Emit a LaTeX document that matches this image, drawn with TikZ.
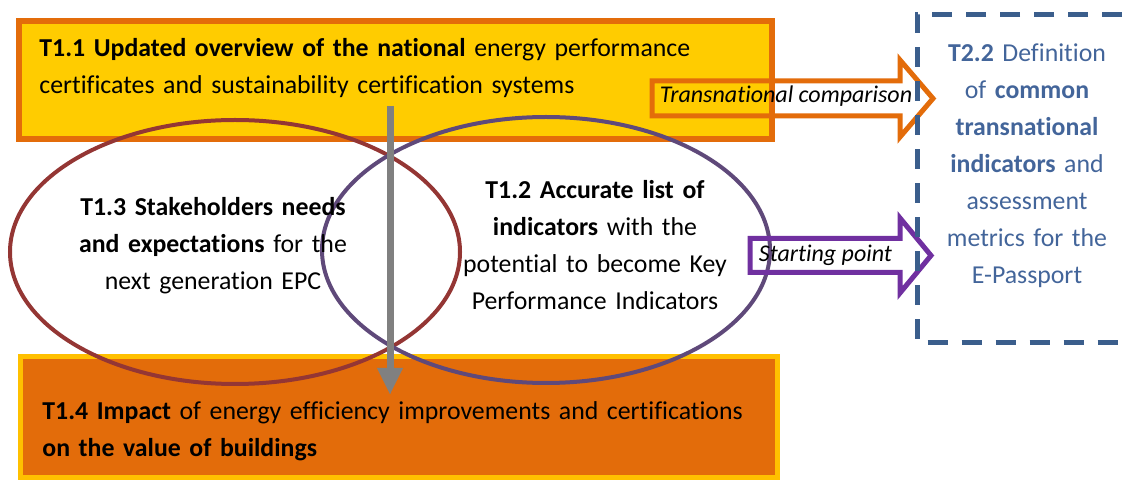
\documentclass[tikz,border=0pt]{standalone}
\usepackage{fontspec}
\setmainfont{Carlito}[Ligatures=NoCommon]
\usetikzlibrary{arrows.meta}

\definecolor{gelb}{HTML}{FFCC00}
\definecolor{gelbrand}{HTML}{FFC000}
\definecolor{orange}{HTML}{E36C0A}
\definecolor{rotbraun}{HTML}{943634}
\definecolor{lila}{HTML}{5F497A}
\definecolor{violett}{HTML}{7030A0}
\definecolor{stahlblau}{HTML}{3B5E8C}
\definecolor{textblau}{HTML}{43659A}

\begin{document}
\begin{tikzpicture}[x=0.5pt, y=-0.5pt,
    txt/.style={font=\fontsize{12.9}{18.5}\selectfont, inner sep=0pt, anchor=base},
    kasten/.style={line width=3pt},
    kreis/.style={line width=2pt},
    blockpfeil/.style={line width=2.5pt, line join=miter}]
  \useasboundingbox (0,0) rectangle (1130,480);

  % Kasten T1.1 (gelb, oranger Rand)
  \draw[kasten, fill=gelb, draw=orange] (19,21) rectangle (772,139);

  % Kasten T1.4 (orange, gelber Rand)
  \draw[kasten, line width=2.5pt, fill=orange, draw=gelbrand] (20.5,357) rectangle (777,478);

  % Ellipsen T1.3 und T1.2
  \draw[kreis, rotbraun] (235,252) ellipse [x radius=225, y radius=132];
  \draw[kreis, lila] (546,250) ellipse [x radius=224, y radius=133];

  % Blockpfeile nach T2.2
  \draw[blockpfeil, orange] (652,81) -- (900,81) -- (900,60) -- (933,98.5)
    -- (900,137) -- (900,116) -- (652,116) -- cycle;
  \draw[blockpfeil, violett] (750,238.5) -- (900,238.5) -- (900,218) -- (931,255.5)
    -- (900,293) -- (900,272.5) -- (750,272.5) -- cycle;

  % gestrichelter Kasten T2.2
  \draw[stahlblau, line width=2.5pt, dash pattern=on 10pt off 7pt, dash phase=3pt]
    (1150,14.5) -- (917,14.5) -- (917,343) -- (1150,343);

  % grauer Pfeil von T1.1 nach T1.4
  \coordinate (oben) at (390,106);
  \coordinate (unten) at (390,395);
  \draw[gray, line width=3.5pt, -{Triangle[width=12pt, length=13.5pt]}] (oben) -- (unten);

  % Texte
  \node[txt, anchor=base west, text width=370pt, align=left] (t11) at (39,57)
    {\textbf{T1.1 Updated overview of the national} energy performance\\
     certificates and sustainability certification systems};
  \node[txt, text width=160pt, align=center] (t13) at (213,216)
    {\textbf{T1.3 Stakeholders needs}\\
     \textbf{and expectations} for the\\
     next generation EPC};
  \node[txt, text width=160pt, align=center] (t12) at (595,199)
    {\textbf{T1.2 Accurate list of}\\
     \textbf{indicators} with the\\
     potential to become Key\\
     Performance Indicators};
  \node[txt, anchor=base west, text width=390pt, align=left] (t14) at (42,420)
    {\textbf{T1.4 Impact} of energy efficiency improvements and certifications\\
     \textbf{on the value of buildings}};
  \node[txt, text=textblau, text width=100pt, align=center] (t22) at (1027,62)
    {\textbf{T2.2} Definition\\
     of \textbf{common}\\
     \textbf{transnational}\\
     \textbf{indicators} and\\
     assessment\\
     metrics for the\\
     E-Passport};

  % Beschriftung der Blockpfeile
  \node[txt, font=\fontsize{12}{14}\selectfont\itshape] (vergleich) at (786,103) {Transnational comparison};
  \node[txt, font=\fontsize{12}{14}\selectfont\itshape] (startpunkt) at (825.5,262) {Starting point};

\end{tikzpicture}
\end{document}
